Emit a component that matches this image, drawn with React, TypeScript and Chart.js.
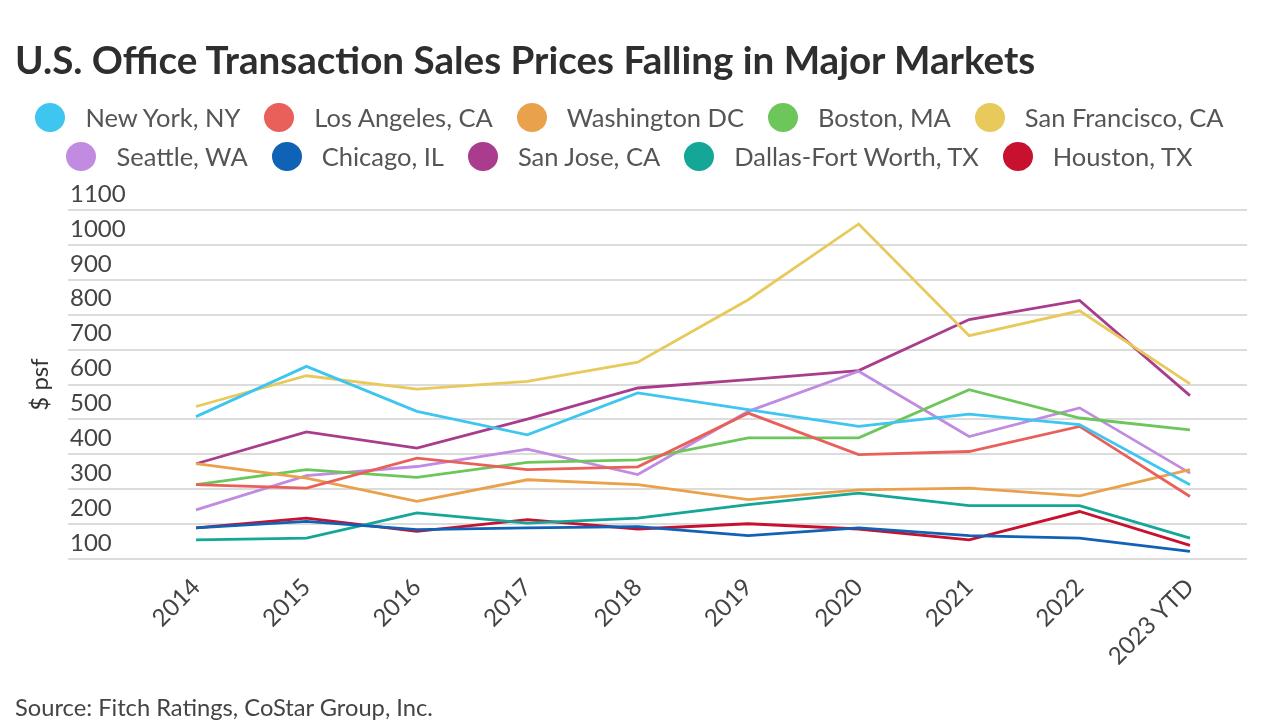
import React, { useEffect, useRef } from "react";
import { Chart, registerables } from "chart.js";

Chart.register(...registerables);

const categories = ["2014", "2015", "2016", "2017", "2018", "2019", "2020", "2021", "2022", "2023 YTD"];

const seriesNames = [
  "New York, NY",
  "Los Angeles, CA",
  "Washington DC",
  "Boston, MA",
  "San Francisco, CA",
  "Seattle, WA",
  "Chicago, IL",
  "San Jose, CA",
  "Dallas-Fort Worth, TX",
  "Houston, TX",
];

const seriesColors = [
  "#3ec6f0",
  "#e9605a",
  "#e9a24b",
  "#6dc65a",
  "#e8c95c",
  "#c08be0",
  "#0f62b5",
  "#a93c8c",
  "#14a697",
  "#c8102f",
];

const newYork = [508, 652, 523, 456, 576, 528, 480, 515, 485, 313];
const losAngeles = [313, 303, 389, 356, 364, 518, 399, 408, 480, 279];
const washington = [373, 332, 265, 327, 313, 270, 298, 303, 281, 356];
const boston = [313, 356, 334, 377, 384, 447, 447, 585, 504, 470];
const sanFrancisco = [537, 625, 587, 609, 664, 843, 1060, 740, 811, 602];
const seattle = [241, 339, 365, 415, 342, 523, 638, 451, 533, 346];
const chicago = [189, 208, 184, 189, 193, 167, 189, 167, 160, 122];
const sanJose = [373, 464, 418, 501, 590, 614, 640, 786, 841, 568];
const dallas = [155, 160, 232, 203, 217, 256, 289, 253, 253, 160];
const houston = [189, 217, 179, 213, 186, 201, 186, 155, 236, 139];

const seriesValues = [newYork, losAngeles, washington, boston, sanFrancisco, seattle, chicago, sanJose, dallas, houston];

const yTicks = [100, 200, 300, 400, 500, 600, 700, 800, 900, 1000, 1100];

const titleText = "U.S. Office Transaction Sales Prices Falling in Major Markets";
const sourceText = "Source: Fitch Ratings, CoStar Group, Inc.";
const yAxisTitle = "$ psf";

const FONT = "Lato, 'Noto Sans', sans-serif";

export default function App() {
  const canvasRef = useRef<HTMLCanvasElement | null>(null);

  useEffect(() => {
    if (!canvasRef.current) return;
    Chart.defaults.font.family = FONT;
    const chart = new Chart(canvasRef.current, {
      type: "line",
      data: {
        datasets: seriesNames.map((name, k) => ({
          label: name,
          data: seriesValues[k].map((v, i) => ({ x: i, y: v })),
          borderColor: seriesColors[k],
          backgroundColor: seriesColors[k],
          borderWidth: 2.8,
          pointRadius: 0,
          pointHoverRadius: 0,
          tension: 0,
          fill: false,
        })),
      },
      options: {
        animation: false,
        responsive: false,
        maintainAspectRatio: false,
        layout: { padding: { top: 210, left: 0, right: 33, bottom: 0 } },
        plugins: {
          legend: { display: false },
          tooltip: { enabled: false },
        },
        scales: {
          x: {
            type: "linear",
            min: -1.159,
            max: 9.516,
            grid: { display: false },
            border: { display: false },
            afterBuildTicks: (s: any) => {
              s.ticks = categories.map((_, i) => ({ value: i }));
            },
            afterFit: (s: any) => {
              s.height = 168;
            },
            ticks: {
              autoSkip: false,
              minRotation: 45,
              maxRotation: 45,
              padding: 6,
              color: "#444",
              font: { size: 24 },
              callback: (v: any) => categories[v as number],
            },
          },
          y: {
            type: "linear",
            min: 100,
            max: 1100,
            afterBuildTicks: (s: any) => {
              s.ticks = yTicks.map((v) => ({ value: v }));
            },
            afterFit: (s: any) => {
              s.width = 68;
            },
            grid: { color: "#dcdcdc", lineWidth: 2, drawTicks: false },
            border: { display: false },
            ticks: {
              mirror: true,
              padding: 2,
              labelOffset: -16,
              color: "#444",
              font: { size: 24 },
              callback: (v: any) => String(v),
            },
            title: {
              display: true,
              text: yAxisTitle,
              color: "#333",
              font: { size: 24 },
              padding: { top: 26, bottom: 0 },
            },
          },
        },
      },
    });
    return () => chart.destroy();
  }, []);

  const rows = [seriesNames.slice(0, 5), seriesNames.slice(5)];

  return (
    <div
      style={{
        position: "fixed",
        left: 0,
        top: 0,
        width: 1280,
        height: 727,
        background: "#fff",
        fontFamily: FONT,
        overflow: "hidden",
      }}
    >
      <canvas ref={canvasRef} width={1280} height={727} style={{ position: "absolute", left: 0, top: 0 }} />
      <div
        style={{
          position: "absolute",
          left: 15,
          top: 40,
          fontSize: 38.6,
          lineHeight: 1,
          fontWeight: 700,
          color: "#2e2e2e",
          whiteSpace: "nowrap",
        }}
      >
        {titleText}
      </div>
      {rows.map((row, r) => (
        <div
          key={r}
          style={{
            position: "absolute",
            left: 0,
            width: 1259,
            top: r === 0 ? 103 : 142,
            height: 29,
            display: "flex",
            justifyContent: "center",
            alignItems: "center",
            whiteSpace: "nowrap",
          }}
        >
          {row.map((name, j) => {
            const k = r * 5 + j;
            return (
              <div key={name} style={{ display: "flex", alignItems: "center", marginLeft: j === 0 ? 0 : 24 }}>
                <span
                  style={{
                    display: "inline-block",
                    width: 30,
                    height: 29,
                    borderRadius: "50%",
                    background: seriesColors[k],
                    marginRight: 20,
                  }}
                />
                <span style={{ fontSize: 25.5, color: "#555", lineHeight: 1 }}>{name}</span>
              </div>
            );
          })}
        </div>
      ))}
      <div
        style={{
          position: "absolute",
          left: 15,
          top: 696,
          fontSize: 23.7,
          lineHeight: 1,
          color: "#444",
          whiteSpace: "nowrap",
        }}
      >
        {sourceText}
      </div>
    </div>
  );
}
